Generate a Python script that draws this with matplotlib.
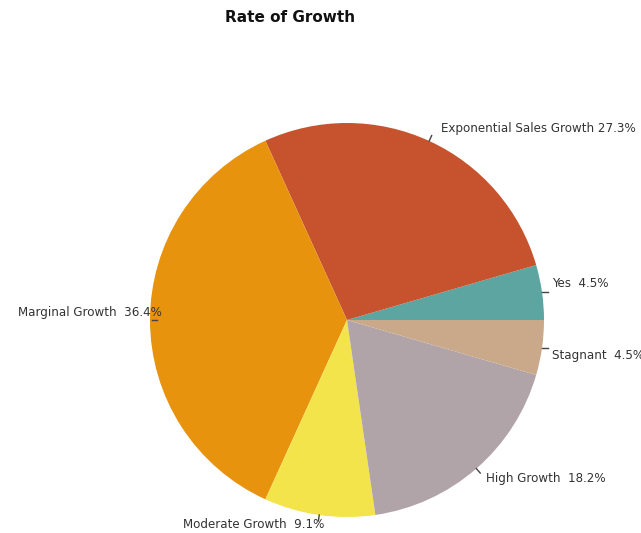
import matplotlib
matplotlib.use("Agg")
import matplotlib.pyplot as plt
import numpy as np

categories = ["Yes", "Exponential Sales Growth", "Marginal Growth",
              "Moderate Growth", "High Growth", "Stagnant"]
percent = [4.5, 27.3, 36.4, 9.1, 18.2, 4.5]
colors = ["#5da5a1", "#c6532e", "#e8930d", "#f3e44c", "#b1a4a8", "#caa98b"]
label_text = ["Yes  4.5%", "Exponential Sales Growth 27.3%", "Marginal Growth  36.4%",
              "Moderate Growth  9.1%", "High Growth  18.2%", "Stagnant  4.5%"]

W, H = 641, 533
fig = plt.figure(figsize=(W / 100, H / 100), dpi=100)
fig.patch.set_facecolor("white")

cx, cy, r = 347, 320, 197
ax = fig.add_axes([(cx - r) / W, (H - cy - r) / H, 2 * r / W, 2 * r / H])
wedges, _ = ax.pie(percent, colors=colors, startangle=0, counterclock=True,
                   radius=1.0, wedgeprops=dict(linewidth=0))
ax.set_xlim(-1, 1)
ax.set_ylim(-1, 1)
ax.set_aspect("equal")
ax.axis("off")

# label offsets (axes units) from the end of each leader tick
offsets = {
    0: (0.02, 0.04, "left"),
    1: (0.045, 0.035, "left"),
    2: (0.06, 0.04, "right"),
    3: (0.03, -0.02, "right"),
    4: (0.03, -0.03, "left"),
    5: (0.02, -0.035, "left"),
}
for i, w in enumerate(wedges):
    ang = np.deg2rad((w.theta1 + w.theta2) / 2)
    x0, y0 = np.cos(ang), np.sin(ang)
    x1, y1 = 1.03 * x0, 1.03 * y0
    if i in (0, 5):
        ax.plot([x0 + 0.0, x0 + 0.03], [y0, y0], color="#444444", lw=1, clip_on=False)
    elif i == 2:
        ax.plot([x0 + 0.01, x0 + 0.035], [y0, y0], color="#444444", lw=1, clip_on=False)
        x1 = x0
    else:
        ax.plot([x0, x1], [y0, y1], color="#444444", lw=1, clip_on=False)
    dx, dy, ha = offsets[i]
    ax.text(x1 + dx, y1 + dy, label_text[i], ha=ha, va="center",
            fontsize=8.6, color="#333333", family="DejaVu Sans", clip_on=False)

fig.text(290 / W, 1 - 18 / H, "Rate of Growth", ha="center", va="center",
         fontsize=11, fontweight="bold", color="#111111")

fig.savefig("out.png", dpi=100, facecolor="white")
